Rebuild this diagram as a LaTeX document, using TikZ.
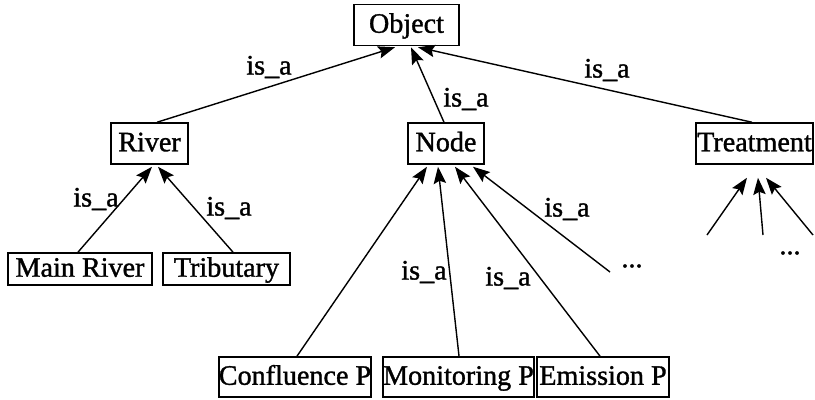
\documentclass[tikz,border=0pt]{standalone}
\usepackage{fontspec}
\setmainfont{Liberation Serif}
\newfontfamily\heavyserif[FakeBold=1.2]{Liberation Serif}
\usetikzlibrary{arrows.meta, calc}

\begin{document}
\begin{tikzpicture}[
            x = 0.0125cm, y = -0.0125cm, % one unit is one pixel of the sketch
            > = {Stealth[length=6pt, width=4.4pt, inset=1pt]}, % arrow head style
            line width = 0.5pt, % line style
            font = \heavyserif\fontsize{10}{12}\selectfont
        ]
        \tikzstyle{cls}=[
            draw = black,
            line width = 0.6pt,
            fill = white,
            inner sep = 0pt,
            text height = 1.6ex,
            text depth = 0.4ex,
            minimum height = 0.51cm
        ]
        \tikzstyle{isa}=[inner sep = 1pt]
        \useasboundingbox (0,0) rectangle (815,399);

        % classes
        \node[cls, minimum width=1.31cm] (obj) at (406.5,25) {Object};
        \node[cls, minimum width=0.96cm] (river) at (149.5,143.5) {River};
        \node[cls, minimum width=0.95cm] (node) at (446,143.5) {Node};
        \node[cls, minimum width=1.46cm] (treat) at (754.5,143.5) {Treatment};
        \node[cls, minimum width=1.80cm, minimum height=0.4cm] (main) at (80,269) {Main River};
        \node[cls, minimum width=1.59cm, minimum height=0.4cm] (trib) at (226.5,269) {Tributary};
        \node[cls, minimum width=1.875cm, minimum height=0.5cm] (conf) at (295,377) {Confluence P};
        \node[cls, minimum width=1.86cm, minimum height=0.5cm] (mon) at (458.5,377) {Monitoring P};
        \node[cls, minimum width=1.65cm, minimum height=0.5cm] (emis) at (603,377) {Emission P};
        \node[isa] (more1) at (632,266) {...};
        \node[isa] (more2) at (790,253) {...};

        % loose ends
        \coordinate (n4) at (610,272);
        \coordinate (t1) at (707,235);
        \coordinate (t2) at (763,235);
        \coordinate (t3) at (813,235);

        % is_a links
        \path[->] ($(river.north)+(7.5,0)$) edge ($(obj.south)+(-11.5,1)$);
        \path[->] ($(node.north)+(-2,0)$) edge ($(obj.south)+(4.5,1)$);
        \path[->] ($(treat.north)+(-2.5,0)$) edge ($(obj.south)+(11.5,1)$);
        \path[->] ($(main.north)+(-2,0)$) edge ($(river.south)+(2.5,2)$);
        \path[->] ($(trib.north)+(6.5,0)$) edge ($(river.south)+(8.5,2)$);
        \path[->] ($(conf.north)+(2,0)$) edge ($(node.south)+(-19,2)$);
        \path[->] ($(mon.north)+(0.5,0)$) edge ($(node.south)+(-8,2)$);
        \path[->] ($(emis.north)+(-3,0)$) edge ($(node.south)+(9,2)$);
        \path[->] (n4) edge ($(node.south)+(27,2)$);
        \path[->] (t1) edge ($(treat.south)+(-7.5,13)$);
        \path[->] (t2) edge ($(treat.south)+(3.5,13)$);
        \path[->] (t3) edge ($(treat.south)+(11.5,13)$);

        % labels
        \node[isa] (l1) at (269,67) {is\_a};
        \node[isa] (l2) at (466,99) {is\_a};
        \node[isa] (l3) at (607,70) {is\_a};
        \node[isa] (l4) at (96,199) {is\_a};
        \node[isa] (l5) at (229,208) {is\_a};
        \node[isa] (l6) at (567,209) {is\_a};
        \node[isa] (l7) at (424,272) {is\_a};
        \node[isa] (l8) at (508,278) {is\_a};
    \end{tikzpicture}
\end{document}
